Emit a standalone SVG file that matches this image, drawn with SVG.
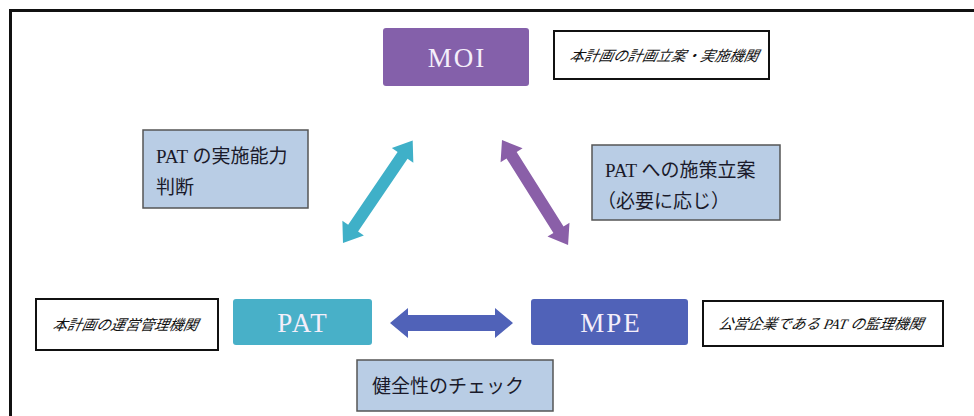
<svg xmlns="http://www.w3.org/2000/svg" width="974" height="416" viewBox="0 0 974 416">
<style>
.node{stroke:none}
.lbl{fill:#fff;stroke:#111;stroke-width:2}
.note{fill:#b9cde5;stroke:#555;stroke-width:1.5}
.nt{font-family:"Liberation Serif","Noto Sans CJK JP",serif;font-size:27px;letter-spacing:2px;fill:#f4eefa;text-anchor:middle}
.it{font-family:"Liberation Serif","Noto Sans CJK JP",serif;font-size:14.5px;font-style:italic;fill:#111}
.tx{font-family:"Liberation Serif","Noto Sans CJK JP",serif;font-size:19px;fill:#1a1a2a}
</style>
<defs>
<polygon id="dbl" points="0,0 18,-13 18,-6 106,-6 106,-13 124,0 106,13 106,6 18,6 18,13"/>
</defs>
<rect x="0" y="0" width="974" height="416" fill="#fff"/>
<rect x="10.5" y="10.5" width="980" height="420" fill="none" stroke="#111" stroke-width="3"/>
<g id="connectors">
<use href="#dbl" fill="#3fb0c8" transform="translate(343,243) rotate(-55.8)"/>
<use href="#dbl" fill="#8a5fa8" transform="translate(502,140) rotate(57.8)"/>
<polygon fill="#5062b8" points="390,323 408,308 408,315 495,315 495,308 513,323 495,338 495,331 408,331 408,338"/>
</g>
<g id="MOI">
<rect class="node" x="383" y="28" width="146" height="58" rx="3" fill="#8460aa"/>
<text class="nt" x="457" y="67" font-size="29">MOI</text>
</g>
<g id="MOI-label">
<rect class="lbl" x="554" y="31" width="215" height="48"/>
<text class="it" transform="translate(569,61) skewX(-12)">本計画の計画立案・実施機関</text>
</g>
<g id="PAT">
<rect class="node" x="233" y="299" width="139" height="46" rx="3" fill="#48b0c8"/>
<text class="nt" x="303" y="332">PAT</text>
</g>
<g id="PAT-label">
<rect class="lbl" x="36" y="299" width="182" height="51"/>
<text class="it" transform="translate(52,330) skewX(-12)">本計画の運営管理機関</text>
</g>
<g id="MPE">
<rect class="node" x="531" y="299" width="157" height="46" rx="3" fill="#5062b8"/>
<text class="nt" x="611" y="332">MPE</text>
</g>
<g id="MPE-label">
<rect class="lbl" x="703" y="301" width="240" height="45"/>
<text class="it" transform="translate(718,329) skewX(-12)">公営企業である PAT の監理機関</text>
</g>
<g id="note-left">
<rect class="note" x="143" y="130" width="165" height="78"/>
<text class="tx" x="156" y="163">PAT の実施能力</text>
<text class="tx" x="156" y="194">判断</text>
</g>
<g id="note-right">
<rect class="note" x="592" y="145" width="188" height="75"/>
<text class="tx" x="605" y="177">PAT への施策立案</text>
<text class="tx" x="597" y="208">（必要に応じ）</text>
</g>
<g id="note-bottom">
<rect class="note" x="357" y="360" width="196" height="51"/>
<text class="tx" x="372" y="393">健全性のチェック</text>
</g>
</svg>
